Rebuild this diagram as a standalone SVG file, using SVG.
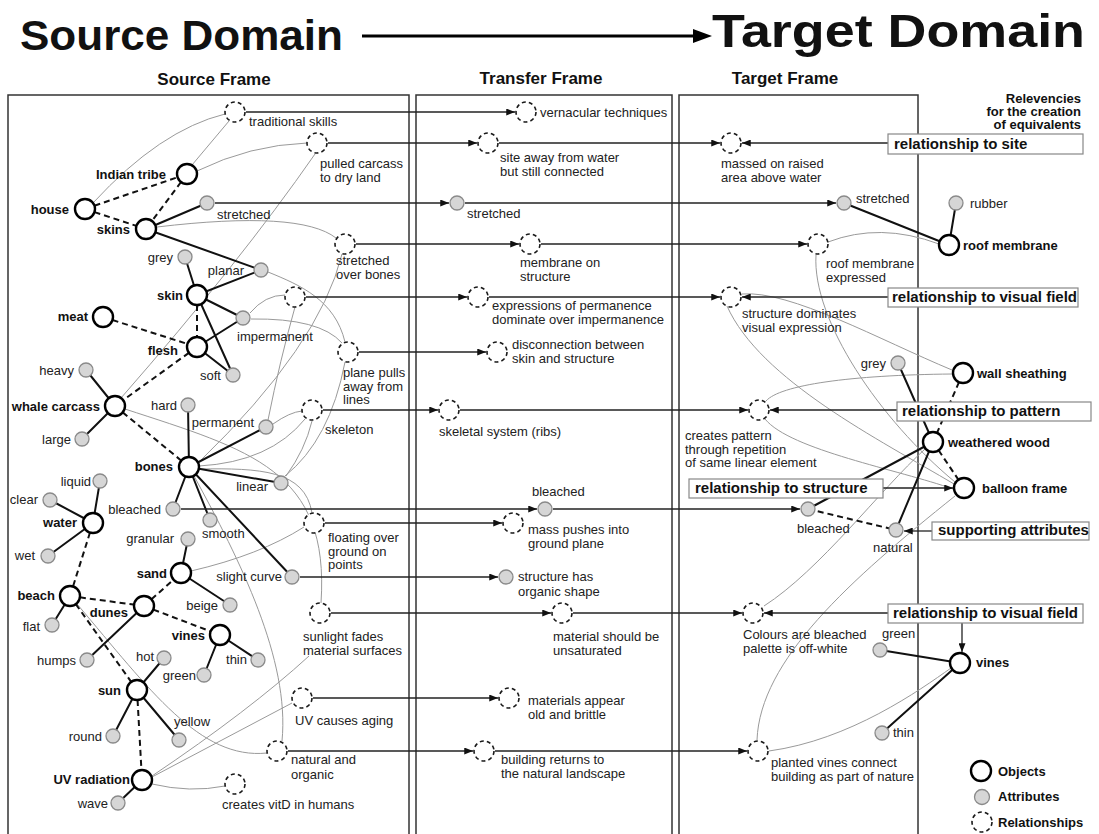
<svg xmlns="http://www.w3.org/2000/svg" width="1099" height="834" viewBox="0 0 1099 834">
  <style>
    .t { font-family: "Liberation Sans", Arial, sans-serif; font-size: 13px; fill: #222; }
    .b { font-weight: bold; fill: #111; }
    .hd { font-family: "Liberation Sans", Arial, sans-serif; font-weight: bold; fill: #111; }
    .bx { font-family: "Liberation Sans", Arial, sans-serif; font-weight: bold; font-size: 15px; fill: #111; }
    .obj { fill: #fff; stroke: #000; stroke-width: 2.4; }
    .attr { fill: #d6d6d6; stroke: #8a8a8a; stroke-width: 1.3; }
    .rel { fill: #fff; stroke: #1a1a1a; stroke-width: 1.6; stroke-dasharray: 4 3.1; }
    .solid { stroke: #111; stroke-width: 2; fill: none; }
    .dash { stroke: #111; stroke-width: 2; stroke-dasharray: 6 4; fill: none; }
    .rl { stroke: #9a9a9a; stroke-width: 1; fill: none; }
    .flow { stroke: #222; stroke-width: 1.3; fill: none; marker-end: url(#ah); }
    .frame { fill: none; stroke: #333; stroke-width: 1.5; }
    .box { fill: #fff; stroke: #888; stroke-width: 1.2; }
  </style>
  <defs>
    <marker id="ah" viewBox="0 0 10 8" refX="10" refY="4" markerWidth="9" markerHeight="7" markerUnits="userSpaceOnUse" orient="auto">
      <path d="M0,0 L10,4 L0,8 z" fill="#111"/>
    </marker>
  </defs>

  <rect width="1099" height="834" fill="#fff"/>

  <!-- headline -->
  <g id="headline">
    <text class="hd" x="20" y="50" font-size="42" textLength="323" lengthAdjust="spacingAndGlyphs">Source Domain</text>
    <line x1="362" y1="36" x2="696" y2="36" stroke="#000" stroke-width="3"/>
    <polygon points="693,29 712,36 693,43" fill="#000"/>
    <text class="hd" x="712" y="47" font-size="47" textLength="373" lengthAdjust="spacingAndGlyphs">Target Domain</text>
  </g>

  <!-- frames -->
  <g id="frames">
    <rect class="frame" x="8" y="95" width="401" height="760"/>
    <rect class="frame" x="416" y="95" width="256" height="760"/>
    <rect class="frame" x="679" y="95" width="239" height="760"/>
    <text class="hd" x="214" y="85" font-size="17" text-anchor="middle">Source Frame</text>
    <text class="hd" x="541" y="84" font-size="17" text-anchor="middle">Transfer Frame</text>
    <text class="hd" x="785" y="84" font-size="17" text-anchor="middle">Target Frame</text>
    <text class="hd" font-size="13" text-anchor="end"><tspan x="1081" y="103">Relevencies</tspan><tspan x="1081" y="116">for the creation</tspan><tspan x="1081" y="129">of equivalents</tspan></text>
  </g>

  <!-- connectors -->
  <g id="connectors">
    <!-- relation links (thin grey) -->
    <path class="rl" d="M93,203 Q160,130 225,114"/>
    <path class="rl" d="M192,165 L229,121"/>
    <path class="rl" d="M197,171 Q250,145 307,143"/>
    <path class="rl" d="M157,227 Q300,210 336,238"/>
    <path class="rl" d="M121,398 Q240,262 315,154"/>
    <path class="rl" d="M199,462 Q320,345 342,254"/>
    <path class="rl" d="M268,272 C300,285 335,300 345,342"/>
    <path class="rl" d="M250,313 Q265,295 285,295"/>
    <path class="rl" d="M251,319 Q320,318 342,343"/>
    <path class="rl" d="M268,420 Q280,360 295,307"/>
    <path class="rl" d="M273,424 Q290,412 302,411"/>
    <path class="rl" d="M199,466 Q270,462 305,419"/>
    <path class="rl" d="M285,476 Q330,440 345,362"/>
    <path class="rl" d="M286,476 Q305,450 312,421"/>
    <path class="rl" d="M125,409 C250,450 330,470 321,603"/>
    <path class="rl" d="M199,469 C260,468 305,470 312,513"/>
    <path class="rl" d="M191,571 Q260,555 304,527"/>
    <path class="rl" d="M194,476 C240,560 290,660 282,741"/>
    <path class="rl" d="M77,604 C150,690 200,760 267,753"/>
    <path class="rl" d="M152,776 Q250,710 309,656"/>
    <path class="rl" d="M152,777 L292,703"/>
    <path class="rl" d="M152,784 Q190,793 225,786"/>
    <!-- target relation links -->
    <path class="rl" d="M939,244 Q880,222 828,242"/>
    <path class="rl" d="M816,255 C812,320 880,420 955,482"/>
    <path class="rl" d="M742,294 C790,290 880,340 952,370"/>
    <path class="rl" d="M727,306 C760,380 880,440 954,484"/>
    <path class="rl" d="M952,374 C850,375 780,385 766,401"/>
    <path class="rl" d="M765,419 C790,450 900,470 953,489"/>
    <path class="rl" d="M764,606 C820,570 880,490 925,449"/>
    <path class="rl" d="M757,740 C760,660 850,580 955,496"/>
    <path class="rl" d="M769,751 C850,740 920,690 951,668"/>

    <!-- object to attribute (solid) -->
    <path class="solid" d="M146,229 L207,203 M146,229 L261,270 M197,295 L185,257 M197,295 L261,270 M197,295 L243,318 M197,295 L233,375 M197,347 L243,318 M197,347 L233,375 M115,406 L86,370 M115,406 L82,439 M189,467 L188,405 M189,467 L266,427 M189,467 L281,483 M189,467 L173,509 M189,467 L210,520 M189,467 L292,577 M93,523 L100,481 M93,523 L50,500 M93,523 L48,556 M181,573 L188,539 M181,573 L230,605 M70,596 L52,625 M144,606 L87,660 M220,635 L204,675 M220,635 L258,660 M137,690 L164,658 M137,690 L113,736 M137,690 L179,740 M142,780 L118,803"/>
    <path class="solid" d="M844,203 L949,245 M956,203 L949,245 M898,363 L933,442 M933,442 L808,509 M933,442 L896,530 M880,650 L960,663 M882,733 L960,663"/>
    <!-- object to object (dashed) -->
    <path class="dash" d="M85,209 L187,174 M85,209 L146,229 M187,174 L146,229 M197,295 L197,347 M103,317 L197,347 M197,347 L115,406 M115,406 L189,467 M93,523 L70,596 M70,596 L144,606 M144,606 L181,573 M144,606 L220,635 M70,596 L137,690 M137,690 L142,780"/>
    <path class="dash" d="M963,373 L933,442 M933,442 L964,488 M808,509 L896,530"/>

    <!-- transfer arrows -->
    <line class="flow" x1="246" y1="112" x2="515" y2="112"/>
    <line class="flow" x1="328" y1="143" x2="477" y2="143"/>
    <line class="flow" x1="499" y1="143" x2="720" y2="143"/>
    <line class="flow" x1="215" y1="203" x2="449" y2="203"/>
    <line class="flow" x1="465" y1="203" x2="836" y2="203"/>
    <line class="flow" x1="356" y1="244" x2="519" y2="244"/>
    <line class="flow" x1="541" y1="244" x2="807" y2="244"/>
    <line class="flow" x1="306" y1="297" x2="467" y2="297"/>
    <line class="flow" x1="489" y1="297" x2="720" y2="297"/>
    <line class="flow" x1="359" y1="352" x2="486" y2="352"/>
    <line class="flow" x1="323" y1="410" x2="438" y2="410"/>
    <line class="flow" x1="460" y1="410" x2="748" y2="410"/>
    <line class="flow" x1="181" y1="509" x2="537" y2="509"/>
    <line class="flow" x1="553" y1="509" x2="800" y2="509"/>
    <line class="flow" x1="325" y1="523" x2="502" y2="523"/>
    <line class="flow" x1="300" y1="577" x2="498" y2="577"/>
    <line class="flow" x1="331" y1="613" x2="551" y2="613"/>
    <line class="flow" x1="573" y1="613" x2="742" y2="613"/>
    <line class="flow" x1="313" y1="698" x2="498" y2="698"/>
    <line class="flow" x1="288" y1="751" x2="473" y2="751"/>
    <line class="flow" x1="495" y1="751" x2="747" y2="751"/>

    <!-- relevancy arrows -->
    <line class="flow" x1="888" y1="143" x2="742" y2="143"/>
    <line class="flow" x1="888" y1="297" x2="742" y2="297"/>
    <line class="flow" x1="897" y1="410" x2="770" y2="410"/>
    <line class="flow" x1="883" y1="488" x2="953" y2="488"/>
    <line class="flow" x1="932" y1="531" x2="904" y2="531"/>
    <line class="flow" x1="888" y1="613" x2="764" y2="613"/>
    <line class="flow" x1="962" y1="623" x2="962" y2="652"/>
  </g>

  <!-- relevancy boxes -->
  <g id="rel-site"><rect class="box" x="888" y="134" width="195" height="20"/><text class="bx" x="894" y="149">relationship to site</text></g>
  <g id="rel-visual-1"><rect class="box" x="888" y="288" width="190" height="19"/><text class="bx" x="892" y="302">relationship to visual field</text></g>
  <g id="rel-pattern"><rect class="box" x="897" y="402" width="194" height="19"/><text class="bx" x="902" y="416">relationship to pattern</text></g>
  <g id="rel-structure"><rect class="box" x="689" y="479" width="194" height="19"/><text class="bx" x="695" y="493">relationship to structure</text></g>
  <g id="rel-supporting"><rect class="box" x="932" y="522" width="157" height="18"/><text class="bx" x="938" y="535">supporting attributes</text></g>
  <g id="rel-visual-2"><rect class="box" x="888" y="604" width="195" height="19"/><text class="bx" x="893" y="618">relationship to visual field</text></g>

  <!-- source frame: objects -->
  <g id="house"><circle class="obj" cx="85" cy="209" r="10"/><text class="t b" x="69" y="214" text-anchor="end">house</text></g>
  <g id="indian-tribe"><circle class="obj" cx="187" cy="174" r="10"/><text class="t b" x="166" y="179" text-anchor="end">Indian tribe</text></g>
  <g id="skins"><circle class="obj" cx="146" cy="229" r="10"/><text class="t b" x="130" y="234" text-anchor="end">skins</text></g>
  <g id="skin"><circle class="obj" cx="197" cy="295" r="10"/><text class="t b" x="183" y="300" text-anchor="end">skin</text></g>
  <g id="meat"><circle class="obj" cx="103" cy="317" r="10"/><text class="t b" x="88" y="321" text-anchor="end">meat</text></g>
  <g id="flesh"><circle class="obj" cx="197" cy="347" r="10"/><text class="t b" x="178" y="355" text-anchor="end">flesh</text></g>
  <g id="whale-carcass"><circle class="obj" cx="115" cy="406" r="10"/><text class="t b" x="100" y="411" text-anchor="end">whale carcass</text></g>
  <g id="bones"><circle class="obj" cx="189" cy="467" r="10"/><text class="t b" x="173" y="471" text-anchor="end">bones</text></g>
  <g id="water"><circle class="obj" cx="93" cy="523" r="10"/><text class="t b" x="77" y="527" text-anchor="end">water</text></g>
  <g id="sand"><circle class="obj" cx="181" cy="573" r="10"/><text class="t b" x="167" y="578" text-anchor="end">sand</text></g>
  <g id="beach"><circle class="obj" cx="70" cy="596" r="10"/><text class="t b" x="55" y="600" text-anchor="end">beach</text></g>
  <g id="dunes"><circle class="obj" cx="144" cy="606" r="10"/><text class="t b" x="128" y="617" text-anchor="end">dunes</text></g>
  <g id="vines-source"><circle class="obj" cx="220" cy="635" r="10"/><text class="t b" x="205" y="640" text-anchor="end">vines</text></g>
  <g id="sun"><circle class="obj" cx="137" cy="690" r="10"/><text class="t b" x="121" y="695" text-anchor="end">sun</text></g>
  <g id="uv-radiation"><circle class="obj" cx="142" cy="780" r="10"/><text class="t b" x="130" y="784" text-anchor="end">UV radiation</text></g>

  <!-- source frame: attributes -->
  <g id="stretched-source"><circle class="attr" cx="207" cy="203" r="7"/><text class="t" x="217" y="219">stretched</text></g>
  <g id="grey-source"><circle class="attr" cx="185" cy="257" r="7"/><text class="t" x="173" y="262" text-anchor="end">grey</text></g>
  <g id="planar"><circle class="attr" cx="261" cy="270" r="7"/><text class="t" x="244" y="275" text-anchor="end">planar</text></g>
  <g id="impermanent"><circle class="attr" cx="243" cy="318" r="7"/><text class="t" x="237" y="341">impermanent</text></g>
  <g id="soft"><circle class="attr" cx="233" cy="375" r="7"/><text class="t" x="221" y="380" text-anchor="end">soft</text></g>
  <g id="heavy"><circle class="attr" cx="86" cy="370" r="7"/><text class="t" x="74" y="375" text-anchor="end">heavy</text></g>
  <g id="hard"><circle class="attr" cx="188" cy="405" r="7"/><text class="t" x="177" y="410" text-anchor="end">hard</text></g>
  <g id="permanent"><circle class="attr" cx="266" cy="427" r="7"/><text class="t" x="254" y="427" text-anchor="end">permanent</text></g>
  <g id="large"><circle class="attr" cx="82" cy="439" r="7"/><text class="t" x="71" y="444" text-anchor="end">large</text></g>
  <g id="linear"><circle class="attr" cx="281" cy="483" r="7"/><text class="t" x="268" y="491" text-anchor="end">linear</text></g>
  <g id="liquid"><circle class="attr" cx="100" cy="481" r="7"/><text class="t" x="91" y="486" text-anchor="end">liquid</text></g>
  <g id="clear"><circle class="attr" cx="50" cy="500" r="7"/><text class="t" x="38" y="504" text-anchor="end">clear</text></g>
  <g id="bleached-source"><circle class="attr" cx="173" cy="509" r="7"/><text class="t" x="161" y="514" text-anchor="end">bleached</text></g>
  <g id="smooth"><circle class="attr" cx="210" cy="520" r="7"/><text class="t" x="202" y="538">smooth</text></g>
  <g id="granular"><circle class="attr" cx="188" cy="539" r="7"/><text class="t" x="174" y="543" text-anchor="end">granular</text></g>
  <g id="wet"><circle class="attr" cx="48" cy="556" r="7"/><text class="t" x="35" y="560" text-anchor="end">wet</text></g>
  <g id="slight-curve"><circle class="attr" cx="292" cy="577" r="7"/><text class="t" x="282" y="581" text-anchor="end">slight curve</text></g>
  <g id="beige"><circle class="attr" cx="230" cy="605" r="7"/><text class="t" x="218" y="610" text-anchor="end">beige</text></g>
  <g id="flat"><circle class="attr" cx="52" cy="625" r="7"/><text class="t" x="40" y="631" text-anchor="end">flat</text></g>
  <g id="humps"><circle class="attr" cx="87" cy="660" r="7"/><text class="t" x="76" y="665" text-anchor="end">humps</text></g>
  <g id="hot"><circle class="attr" cx="164" cy="658" r="7"/><text class="t" x="154" y="661" text-anchor="end">hot</text></g>
  <g id="thin-source"><circle class="attr" cx="258" cy="660" r="7"/><text class="t" x="247" y="664" text-anchor="end">thin</text></g>
  <g id="green-source"><circle class="attr" cx="204" cy="675" r="7"/><text class="t" x="196" y="680" text-anchor="end">green</text></g>
  <g id="yellow"><circle class="attr" cx="179" cy="740" r="7"/><text class="t" x="174" y="726">yellow</text></g>
  <g id="round"><circle class="attr" cx="113" cy="736" r="7"/><text class="t" x="102" y="741" text-anchor="end">round</text></g>
  <g id="wave"><circle class="attr" cx="118" cy="803" r="7"/><text class="t" x="108" y="808" text-anchor="end">wave</text></g>

  <!-- source frame: relationships -->
  <g id="traditional-skills"><circle class="rel" cx="235" cy="112" r="10"/><text class="t" x="249" y="126">traditional skills</text></g>
  <g id="pulled-carcass"><circle class="rel" cx="317" cy="143" r="10"/><text class="t"><tspan x="320" y="168">pulled carcass</tspan><tspan x="320" y="182">to dry land</tspan></text></g>
  <g id="stretched-over-bones"><circle class="rel" cx="345" cy="244" r="10"/><text class="t"><tspan x="336" y="265">stretched</tspan><tspan x="336" y="279">over bones</tspan></text></g>
  <g id="expressions-source"><circle class="rel" cx="295" cy="297" r="10"/></g>
  <g id="plane-pulls"><circle class="rel" cx="348" cy="352" r="10"/><text class="t"><tspan x="343" y="377">plane pulls</tspan><tspan x="343" y="390.5">away from</tspan><tspan x="343" y="404">lines</tspan></text></g>
  <g id="skeleton"><circle class="rel" cx="312" cy="410" r="10"/><text class="t" x="325" y="434">skeleton</text></g>
  <g id="floating"><circle class="rel" cx="314" cy="523" r="10"/><text class="t"><tspan x="328" y="542">floating over</tspan><tspan x="328" y="555.5">ground on</tspan><tspan x="328" y="569">points</tspan></text></g>
  <g id="sunlight-fades"><circle class="rel" cx="320" cy="613" r="10"/><text class="t"><tspan x="303" y="641">sunlight fades</tspan><tspan x="303" y="654.5">material surfaces</tspan></text></g>
  <g id="uv-causes-aging"><circle class="rel" cx="302" cy="698" r="10"/><text class="t" x="295" y="725">UV causes aging</text></g>
  <g id="natural-and-organic"><circle class="rel" cx="277" cy="751" r="10"/><text class="t"><tspan x="291" y="764">natural and</tspan><tspan x="291" y="779">organic</tspan></text></g>
  <g id="creates-vitd"><circle class="rel" cx="235" cy="784" r="10"/><text class="t" x="222" y="809">creates vitD in humans</text></g>

  <!-- transfer frame -->
  <g id="vernacular-techniques"><circle class="rel" cx="526" cy="112" r="10"/><text class="t" x="540" y="117">vernacular techniques</text></g>
  <g id="site-away"><circle class="rel" cx="488" cy="143" r="10"/><text class="t"><tspan x="500" y="162">site away from water</tspan><tspan x="500" y="175.5">but still connected</tspan></text></g>
  <g id="stretched-transfer"><circle class="attr" cx="457" cy="203" r="7"/><text class="t" x="467" y="218">stretched</text></g>
  <g id="membrane-on-structure"><circle class="rel" cx="530" cy="244" r="10"/><text class="t"><tspan x="520" y="267">membrane on</tspan><tspan x="520" y="281">structure</tspan></text></g>
  <g id="expressions-transfer"><circle class="rel" cx="478" cy="297" r="10"/><text class="t"><tspan x="492" y="310">expressions of permanence</tspan><tspan x="492" y="323.5">dominate over impermanence</tspan></text></g>
  <g id="disconnection"><circle class="rel" cx="497" cy="352" r="10"/><text class="t"><tspan x="512" y="349">disconnection between</tspan><tspan x="512" y="362.5">skin and structure</tspan></text></g>
  <g id="skeletal-system"><circle class="rel" cx="449" cy="410" r="10"/><text class="t" x="439" y="436">skeletal system (ribs)</text></g>
  <g id="bleached-transfer"><circle class="attr" cx="545" cy="509" r="7"/><text class="t" x="532" y="496">bleached</text></g>
  <g id="mass-pushes"><circle class="rel" cx="513" cy="523" r="10"/><text class="t"><tspan x="528" y="534">mass pushes into</tspan><tspan x="528" y="547.5">ground plane</tspan></text></g>
  <g id="organic-shape"><circle class="attr" cx="506" cy="577" r="7"/><text class="t"><tspan x="518" y="581">structure has</tspan><tspan x="518" y="596">organic shape</tspan></text></g>
  <g id="unsaturated"><circle class="rel" cx="562" cy="613" r="10"/><text class="t"><tspan x="553" y="641">material should be</tspan><tspan x="553" y="654.5">unsaturated</tspan></text></g>
  <g id="old-and-brittle"><circle class="rel" cx="509" cy="698" r="10"/><text class="t"><tspan x="528" y="705">materials appear</tspan><tspan x="528" y="718.5">old and brittle</tspan></text></g>
  <g id="returns-to-landscape"><circle class="rel" cx="484" cy="751" r="10"/><text class="t"><tspan x="501" y="764">building returns to</tspan><tspan x="501" y="778">the natural landscape</tspan></text></g>

  <!-- target frame -->
  <g id="massed-on-raised"><circle class="rel" cx="731" cy="143" r="10"/><text class="t"><tspan x="721" y="168">massed on raised</tspan><tspan x="721" y="181.5">area above water</tspan></text></g>
  <g id="stretched-target"><circle class="attr" cx="844" cy="203" r="7"/><text class="t" x="856" y="203">stretched</text></g>
  <g id="rubber"><circle class="attr" cx="956" cy="203" r="7"/><text class="t" x="970" y="208">rubber</text></g>
  <g id="roof-membrane"><circle class="obj" cx="949" cy="245" r="10"/><text class="t b" x="963" y="250">roof membrane</text></g>
  <g id="roof-membrane-expressed"><circle class="rel" cx="818" cy="244" r="10"/><text class="t"><tspan x="826" y="268">roof membrane</tspan><tspan x="826" y="282">expressed</tspan></text></g>
  <g id="structure-dominates"><circle class="rel" cx="731" cy="297" r="10"/><text class="t"><tspan x="742" y="318">structure dominates</tspan><tspan x="742" y="331.5">visual expression</tspan></text></g>
  <g id="grey-target"><circle class="attr" cx="898" cy="363" r="7"/><text class="t" x="886" y="368" text-anchor="end">grey</text></g>
  <g id="wall-sheathing"><circle class="obj" cx="963" cy="373" r="10"/><text class="t b" x="977" y="378">wall sheathing</text></g>
  <g id="creates-pattern"><circle class="rel" cx="759" cy="410" r="10"/><text class="t"><tspan x="685" y="440">creates pattern</tspan><tspan x="685" y="453.5">through repetition</tspan><tspan x="685" y="467">of same linear element</tspan></text></g>
  <g id="weathered-wood"><circle class="obj" cx="933" cy="442" r="10"/><text class="t b" x="948" y="447">weathered wood</text></g>
  <g id="balloon-frame"><circle class="obj" cx="964" cy="488" r="10"/><text class="t b" x="982" y="493">balloon frame</text></g>
  <g id="bleached-target"><circle class="attr" cx="808" cy="509" r="7"/><text class="t" x="797" y="533">bleached</text></g>
  <g id="natural-target"><circle class="attr" cx="896" cy="530" r="7"/><text class="t" x="873" y="552">natural</text></g>
  <g id="colours-bleached"><circle class="rel" cx="753" cy="613" r="10"/><text class="t"><tspan x="743" y="639">Colours are bleached</tspan><tspan x="743" y="653">palette is off-white</tspan></text></g>
  <g id="green-target"><circle class="attr" cx="880" cy="650" r="7"/><text class="t" x="882" y="638">green</text></g>
  <g id="vines-target"><circle class="obj" cx="960" cy="663" r="10"/><text class="t b" x="976" y="667">vines</text></g>
  <g id="thin-target"><circle class="attr" cx="882" cy="733" r="7"/><text class="t" x="893" y="737">thin</text></g>
  <g id="planted-vines"><circle class="rel" cx="758" cy="751" r="10"/><text class="t"><tspan x="771" y="767">planted vines connect</tspan><tspan x="771" y="780.5">building as part of nature</tspan></text></g>

  <!-- key -->
  <g id="legend">
    <circle class="obj" cx="981" cy="771" r="10"/><text class="t b" x="998" y="776">Objects</text>
    <circle class="attr" cx="982" cy="797" r="7.5"/><text class="t b" x="998" y="801">Attributes</text>
    <circle class="rel" cx="982" cy="822" r="10"/><text class="t b" x="998" y="827">Relationships</text>
  </g>
</svg>
